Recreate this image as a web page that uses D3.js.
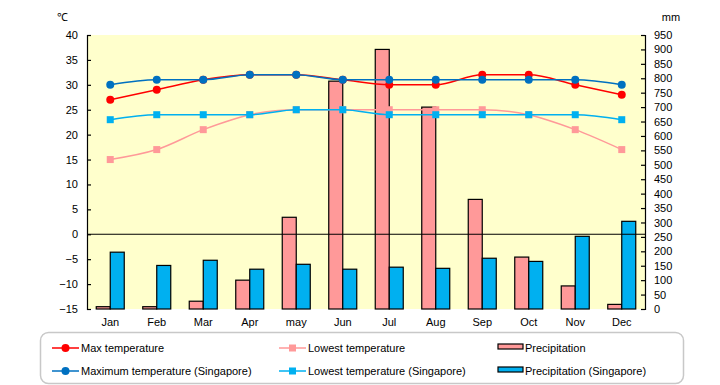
<!DOCTYPE html>
<html>
<head>
<meta charset="utf-8">
<script src="https://cdn.jsdelivr.net/npm/d3@7"></script>
<style>
  body { margin: 0; background: #fff; }
  text { font-family: "Liberation Sans", Arial, sans-serif; font-size: 11px; fill: #000; }
</style>
</head>
<body>
<div id="chart"></div>
<script>
const months = ["Jan", "Feb", "Mar", "Apr", "may", "Jun", "Jul", "Aug", "Sep", "Oct", "Nov", "Dec"];
const maxTemp = [27, 29, 31, 32, 32, 31, 30, 30, 32, 32, 30, 28];
const lowTemp = [15, 17, 21, 24, 25, 25, 25, 25, 25, 24, 21, 17];
const maxTempSg = [30, 31, 31, 32, 32, 31, 31, 31, 31, 31, 31, 30];
const lowTempSg = [23, 24, 24, 24, 25, 25, 24, 24, 24, 24, 24, 23];
const precip = [8, 8, 27, 100, 318, 790, 900, 700, 380, 180, 80, 16];
const precipSg = [197, 151, 169, 138, 155, 138, 145, 141, 176, 165, 252, 304];
const tempTicks = d3.range(-15, 41, 5);
const mmTicks = d3.range(0, 951, 50);

const W = 720, H = 385;
const plot = { left: 87, right: 645, top: 35, bottom: 309 };

const svg = d3.select("#chart").append("svg")
  .attr("width", W).attr("height", H);

// Scales
const x = d3.scaleBand().domain(months).range([plot.left, plot.right]);
const xs = d3.scaleBand().domain(["jp", "sg"])
  .range([x.bandwidth() / 2 - 14, x.bandwidth() / 2 + 14]);
const yT = d3.scaleLinear().domain([-15, 40]).range([plot.bottom, plot.top]);
const yP = d3.scaleLinear().domain([0, 950]).range([plot.bottom, plot.top]);
const cx = d => x(d) + x.bandwidth() / 2;

// Plot background
svg.append("rect")
  .attr("x", plot.left).attr("y", plot.top)
  .attr("width", plot.right - plot.left).attr("height", plot.bottom - plot.top)
  .attr("fill", "#ffffcc");

// Bars
const barSeries = [
  { key: "jp", values: precip, color: "#ff9999" },
  { key: "sg", values: precipSg, color: "#00b0f0" }
];
barSeries.forEach(s => {
  svg.append("g").selectAll("rect")
    .data(months)
    .join("rect")
    .attr("x", (m) => x(m) + xs(s.key))
    .attr("width", xs.bandwidth())
    .attr("y", (m, i) => yP(s.values[i]))
    .attr("height", (m, i) => plot.bottom - yP(s.values[i]))
    .attr("fill", s.color)
    .attr("stroke", "#000")
    .attr("stroke-width", 1.2);
});

// Zero line
svg.append("line")
  .attr("x1", plot.left).attr("x2", plot.right)
  .attr("y1", yT(0)).attr("y2", yT(0))
  .attr("stroke", "#000").attr("stroke-width", 1.2);

// Axes
const leftAxis = svg.append("g")
  .attr("transform", `translate(${plot.left},0)`)
  .call(d3.axisLeft(yT).tickValues(tempTicks).tickSize(-4).tickPadding(9).tickFormat(d => d < 0 ? "\u2212" + Math.abs(d) : d));
const rightAxis = svg.append("g")
  .attr("transform", `translate(${plot.right},0)`)
  .call(d3.axisRight(yP).tickValues(mmTicks).tickSize(-4).tickPadding(9));
[leftAxis, rightAxis].forEach(a => {
  a.select(".domain").attr("stroke", "#000").attr("stroke-width", 1.2);
  a.selectAll(".tick line").attr("stroke", "#000").attr("stroke-width", 1.2);
  a.selectAll("text").style("font-size", "11px").attr("fill", "#000");
});

// Month labels
svg.append("g").selectAll("text")
  .data(months)
  .join("text")
  .attr("x", d => cx(d))
  .attr("y", 326)
  .attr("text-anchor", "middle")
  .text(d => d);

// Units
svg.append("text").attr("x", 62).attr("y", 21).attr("text-anchor", "middle").text("\u2103");
svg.append("text").attr("x", 671).attr("y", 21).attr("text-anchor", "middle").text("mm");

// Lines
const lineSeries = [
  { name: "Max temperature", values: maxTemp, color: "#ff0000", shape: "circle" },
  { name: "Lowest temperature", values: lowTemp, color: "#ff9999", shape: "square" },
  { name: "Maximum temperature (Singapore)", values: maxTempSg, color: "#0070c0", shape: "circle" },
  { name: "Lowest temperature (Singapore)", values: lowTempSg, color: "#00b0f0", shape: "square" }
];
const line = d3.line()
  .x(d => cx(d.m))
  .y(d => yT(d.v))
  .curve(d3.curveMonotoneX);

function drawMarker(g, shape, color, px, py) {
  if (shape === "circle") {
    g.append("circle").attr("cx", px).attr("cy", py).attr("r", 4).attr("fill", color);
  } else {
    g.append("rect").attr("x", px - 3.5).attr("y", py - 3.5)
      .attr("width", 7).attr("height", 7).attr("fill", color);
  }
}

lineSeries.forEach(s => {
  const pts = months.map((m, i) => ({ m, v: s.values[i] }));
  const g = svg.append("g");
  g.append("path")
    .datum(pts)
    .attr("d", line)
    .attr("fill", "none")
    .attr("stroke", s.color)
    .attr("stroke-width", 1.5);
  pts.forEach(p => drawMarker(g, s.shape, s.color, cx(p.m), yT(p.v)));
});

// Legend
const legend = svg.append("g");
legend.append("rect")
  .attr("x", 40.5).attr("y", 332.5).attr("width", 643).attr("height", 51)
  .attr("rx", 8).attr("ry", 8)
  .attr("fill", "#fff").attr("stroke", "#c8c8c8").attr("stroke-width", 1.5);

const legendItems = [
  { name: lineSeries[0].name, type: "line", color: lineSeries[0].color, shape: "circle", x: 52, y: 348 },
  { name: lineSeries[1].name, type: "line", color: lineSeries[1].color, shape: "square", x: 279, y: 348 },
  { name: "Precipitation", type: "bar", color: "#ff9999", x: 498, y: 348 },
  { name: lineSeries[2].name, type: "line", color: lineSeries[2].color, shape: "circle", x: 52, y: 371 },
  { name: lineSeries[3].name, type: "line", color: lineSeries[3].color, shape: "square", x: 279, y: 371 },
  { name: "Precipitation (Singapore)", type: "bar", color: "#00b0f0", x: 498, y: 371 }
];
legendItems.forEach(it => {
  if (it.type === "line") {
    legend.append("line")
      .attr("x1", it.x).attr("x2", it.x + 27)
      .attr("y1", it.y).attr("y2", it.y)
      .attr("stroke", it.color).attr("stroke-width", 1.5);
    drawMarker(legend, it.shape, it.color, it.x + 13.5, it.y);
    legend.append("text").attr("x", it.x + 29).attr("y", it.y + 4).text(it.name);
  } else {
    legend.append("rect")
      .attr("x", it.x).attr("y", it.y - 4).attr("width", 25).attr("height", 5)
      .attr("fill", it.color).attr("stroke", "#000").attr("stroke-width", 1.2);
    legend.append("text").attr("x", it.x + 27).attr("y", it.y + 4).text(it.name);
  }
});
</script>
</body>
</html>
